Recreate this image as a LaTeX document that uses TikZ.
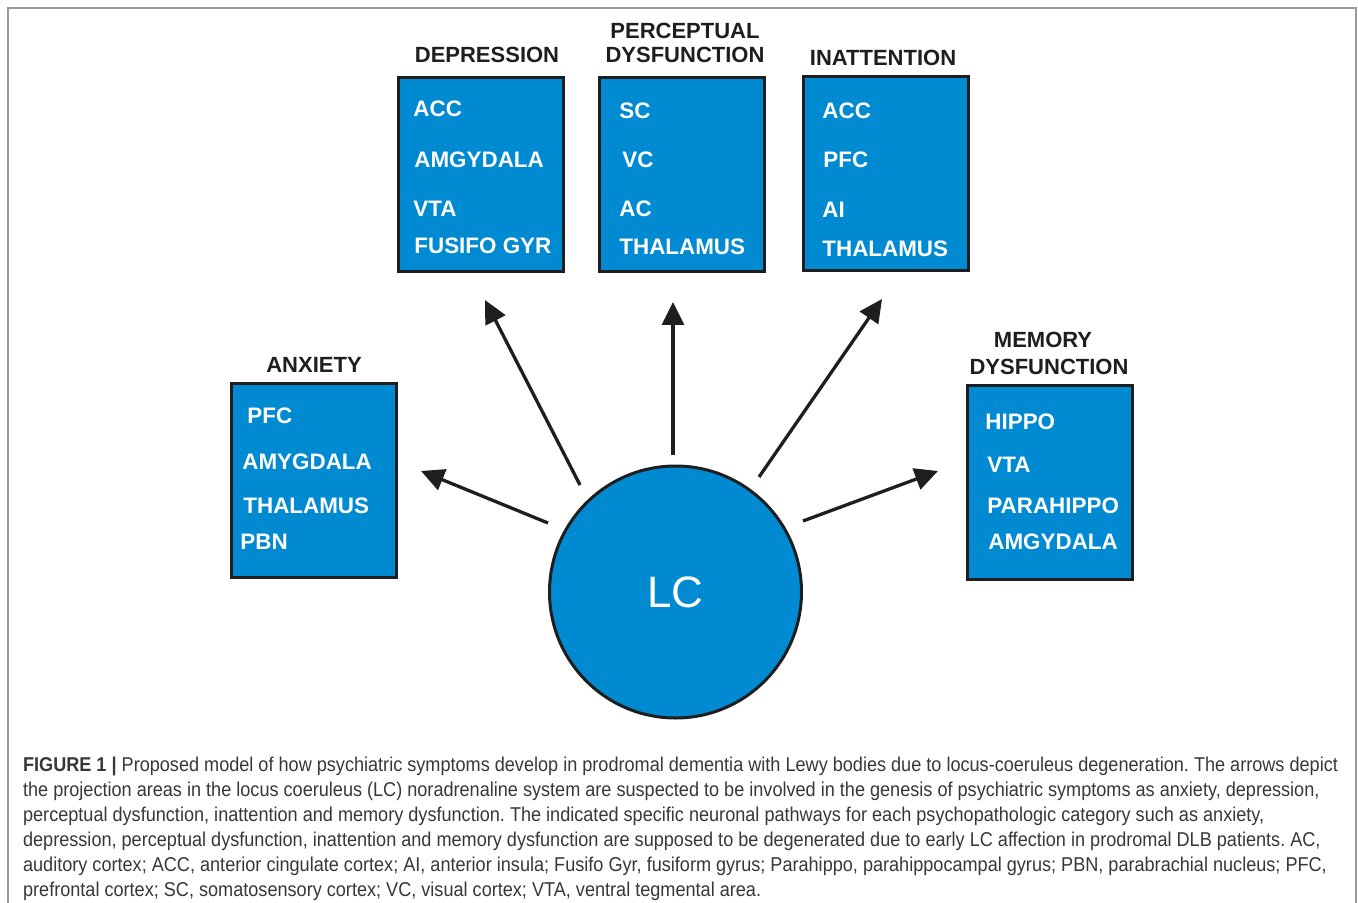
\documentclass[tikz,border=0pt]{standalone}
\usepackage{fontspec}
\setmainfont{Liberation Sans}
\newfontfamily\capfont[FakeStretch=0.905]{Liberation Sans}
\usetikzlibrary{arrows.meta}
\frenchspacing
\definecolor{lcblue}{RGB}{0,138,210}
\definecolor{edge}{RGB}{30,30,30}
\definecolor{captext}{RGB}{55,55,55}
\tikzset{
  region/.style={draw=edge, fill=lcblue, line width=1.5pt, minimum width=82.5pt, minimum height=97pt, inner sep=0pt},
  item/.style={anchor=base west, inner sep=0pt, text=white, font=\fontsize{11.2}{13}\selectfont\bfseries},
  head/.style={anchor=base, inner sep=0pt, text=edge, font=\fontsize{11}{13}\selectfont\bfseries},
  proj/.style={draw=edge, line width=1.65pt, -{Triangle[length=11.5pt, width=11pt]}},
  capline/.style={anchor=base west, inner sep=0pt, text=captext, font=\capfont\fontsize{10}{12}\selectfont},
}
\begin{document}
\begin{tikzpicture}[x=0.5pt, y=-0.5pt]
\useasboundingbox (0,0) rectangle (1358,903);
% frame
\draw[gray!80, line width=0.6pt] (8,903) -- (8,8) -- (1356,8) -- (1356,903);

% LC circle
\node[circle, draw=edge, fill=lcblue, line width=1.5pt, minimum size=126pt, inner sep=0pt,
      text=white, font=\fontsize{22}{24}\selectfont] (lc) at (675.5,592) {LC};

% boxes
\node[region] (dep) at (481,174.5) {};
\node[region] (per) at (682,174.5) {};
\node[region] (ina) at (885.5,174) {};
\node[region] (anx) at (314,480.5) {};
\node[region] (mem) at (1049.5,482) {};

% titles
\node[head] (tdep) at (487,63) {DEPRESSION};
\node[head] (tper1) at (685,39) {PERCEPTUAL};
\node[head] (tper2) at (685,63) {DYSFUNCTION};
\node[head] (tina) at (883,66) {INATTENTION};
\node[head] (tanx) at (314,372) {ANXIETY};
\node[head] (tmem1) at (1043,347) {MEMORY};
\node[head] (tmem2) at (1049,374) {DYSFUNCTION};

% depression items
\node[item] (d1) at (413,117) {ACC};
\node[item] (d2) at (414,168) {AMGYDALA};
\node[item] (d3) at (413,217) {VTA};
\node[item] (d4) at (414,254) {FUSIFO GYR};
% perceptual items
\node[item] (p1) at (619,119) {SC};
\node[item] (p2) at (622,168) {VC};
\node[item] (p3) at (619,217) {AC};
\node[item] (p4) at (619,255) {THALAMUS};
% inattention items
\node[item] (i1) at (822,119) {ACC};
\node[item] (i2) at (823,168) {PFC};
\node[item] (i3) at (822,218) {AI};
\node[item] (i4) at (822,257) {THALAMUS};
% anxiety items
\node[item] (a1) at (247,423) {PFC};
\node[item] (a2) at (242,469) {AMYGDALA};
\node[item] (a3) at (243,513) {THALAMUS};
\node[item] (a4) at (240,549) {PBN};
% memory items
\node[item] (m1) at (985,429) {HIPPO};
\node[item] (m2) at (987,472) {VTA};
\node[item] (m3) at (987,513) {PARAHIPPO};
\node[item] (m4) at (988,549) {AMGYDALA};

% arrow ends
\coordinate (sAnx) at (548,523);
\coordinate (eAnx) at (421,471);
\coordinate (sDep) at (580,485);
\coordinate (eDep) at (485,300);
\coordinate (sPer) at (673,455);
\coordinate (ePer) at (673,302);
\coordinate (sIna) at (759,477);
\coordinate (eIna) at (882,299);
\coordinate (sMem) at (803,521);
\coordinate (eMem) at (938,471);
\draw[proj] (sAnx) -- (eAnx);
\draw[proj] (sDep) -- (eDep);
\draw[proj] (sPer) -- (ePer);
\draw[proj] (sIna) -- (eIna);
\draw[proj] (sMem) -- (eMem);

% caption
\node[capline] (c1) at (22.7,771) {\textbf{FIGURE 1 |} Proposed model of how psychiatric symptoms develop in prodromal dementia with Lewy bodies due to locus-coeruleus degeneration. The arrows depict};
\node[capline] (c2) at (22.7,796) {the projection areas in the locus coeruleus (LC) noradrenaline system are suspected to be involved in the genesis of psychiatric symptoms as anxiety, depression,};
\node[capline] (c3) at (22.7,821) {perceptual dysfunction, inattention and memory dysfunction. The indicated specific neuronal pathways for each psychopathologic category such as anxiety,};
\node[capline] (c4) at (22.7,846) {depression, perceptual dysfunction, inattention and memory dysfunction are supposed to be degenerated due to early LC affection in prodromal DLB patients. AC,};
\node[capline] (c5) at (22.7,871) {auditory cortex; ACC, anterior cingulate cortex; AI, anterior insula; Fusifo Gyr, fusiform gyrus; Parahippo, parahippocampal gyrus; PBN, parabrachial nucleus; PFC,};
\node[capline] (c6) at (22.7,896) {prefrontal cortex; SC, somatosensory cortex; VC, visual cortex; VTA, ventral tegmental area.};
\end{tikzpicture}
\end{document}
